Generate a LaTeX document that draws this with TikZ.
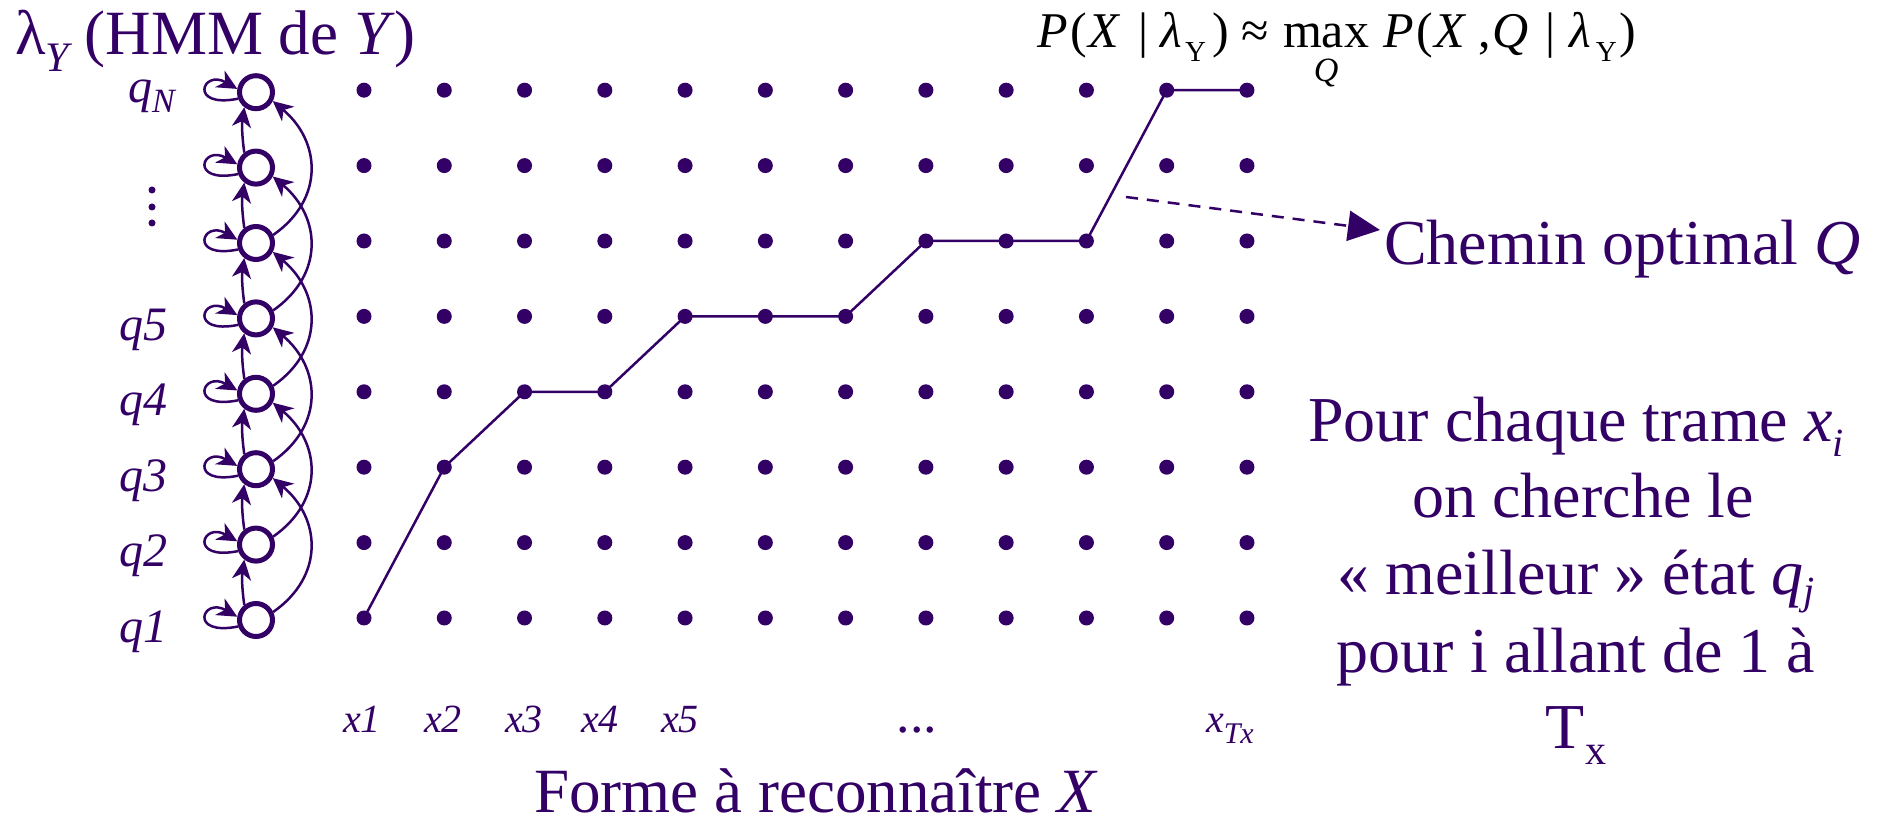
\documentclass[tikz,border=0pt]{standalone}
\usepackage{fontspec}
\setmainfont{Liberation Serif}
\usetikzlibrary{arrows.meta,calc}
\definecolor{pur}{HTML}{330066}
\newcommand\subs[3]{\raisebox{-#1}{\fontsize{#2}{#2}\selectfont #3}}
\begin{document}
\begin{tikzpicture}[x=1pt,y=1pt,
  every node/.style={inner sep=0pt,outer sep=0pt},
  dot/.style={circle,fill=pur,minimum size=15pt},
  state/.style={circle,draw=pur,line width=5pt,minimum size=33pt,fill=white,outer sep=2.5pt},
  arr/.style={draw=pur,line width=2.5pt,-{Stealth[length=20pt,width=19pt,inset=6pt]}},
  vpath/.style={draw=pur,line width=2.5pt,line join=round},
  dasharr/.style={draw=pur,line width=2.5pt,dash pattern=on 12pt off 9pt,-{Triangle[length=32pt,width=30pt]}},
  qlab/.style={text=pur,anchor=base,font=\fontsize{48}{48}\selectfont\itshape},
  xlab/.style={text=pur,anchor=base,font=\fontsize{40}{40}\selectfont\itshape},
  big/.style={text=pur,font=\fontsize{64}{64}\selectfont},
]
\useasboundingbox (0,0) rectangle (1879,817);

% grid of dots
\foreach \c in {1,...,12}
  \foreach \r in {1,...,8}
    \node[dot] (d-\c-\r) at ({364+80.27*(\c-1)},{199+75.4*(\r-1)}) {};

% optimal path
\draw[vpath] (d-1-1.center) -- (d-2-3.center) -- (d-3-4.center) -- (d-4-4.center)
  -- (d-5-5.center) -- (d-6-5.center) -- (d-7-5.center) -- (d-8-6.center)
  -- (d-9-6.center) -- (d-10-6.center) -- (d-11-8.center) -- (d-12-8.center);

% HMM states
\foreach \r in {1,...,8}
  \node[state] (s\r) at (256,{197+75.4*(\r-1)}) {};

\foreach \r in {1,...,8}
  \draw[arr] (s\r.200) .. controls +(-50,-10) and +(-35,20) .. (s\r.170);

\foreach \r [evaluate=\r as \nx using int(\r+1)] in {1,...,7}
  \draw[arr] (s\r.128) to[bend left=8] (s\nx.-128);

\foreach \r [evaluate=\r as \nx using int(\r+2)] in {1,...,6}
  \draw[arr] (s\r.25) to[out=35,in=-40,looseness=1.2] (s\nx.-28);

% state labels
\node[qlab] (l1) at (143,175) {q1};
\node[qlab] (l2) at (143,250.4) {q2};
\node[qlab] (l3) at (143,325.8) {q3};
\node[qlab] (l4) at (143,401.2) {q4};
\node[qlab] (l5) at (143,476.6) {q5};
\node[qlab,anchor=base west] (lN) at (128,714) {q\subs{10pt}{34}{N}};
\fill[pur] (152,627) circle (3.5) (152,610) circle (3.5) (152,594) circle (3.5);

% frame labels
\node[xlab] (x1) at (362,85) {x1};
\node[xlab] (x2) at (443,85) {x2};
\node[xlab] (x3) at (524,85) {x3};
\node[xlab] (x4) at (600,85) {x4};
\node[xlab] (x5) at (680,85) {x5};
\node[xlab,font=\fontsize{54}{54}\selectfont] (xdots) at (917,85) {...};
\node[xlab,anchor=base west] (xT) at (1206,85) {x\subs{11pt}{30}{Tx}};

% titles
\node[big,anchor=base west,font=\fontsize{63}{63}\selectfont] (title) at (15,762)
  {λ\subs{17pt}{42}{\itshape Y} (HMM de \textit{Y})};
\node[anchor=base west,text=black,font=\fontsize{50}{60}\selectfont] (formula) at (1037,769)
  {\textit{P}\hspace{3pt}(\hspace{1pt}\textit{X}\hspace{18pt}|\hspace{12pt}\textit{λ}\hspace{3pt}\subs{14pt}{29}{Y}\hspace{7pt})\hspace{12pt}≈\hspace{14pt}\begin{tabular}[t]{@{}c@{}}max\\[-26pt]{\fontsize{34}{34}\selectfont\itshape Q}\end{tabular}\hspace{14pt}\textit{P}\hspace{3pt}(\hspace{1pt}\textit{X}\hspace{12pt},\hspace{2pt}\textit{Q}\hspace{16pt}|\hspace{14pt}\textit{λ}\hspace{5pt}\subs{14pt}{29}{Y}\hspace{3pt})};

\node[big,anchor=base west] (chemin) at (1384,552) {Chemin optimal \textit{Q}};
\coordinate (dstart) at (1126,620);
\draw[dasharr] (dstart) -- ($(chemin.base west)+(-4,35)$);

\node[big,anchor=base] (r1) at (1576,375) {Pour chaque trame \textit{x}\subs{15pt}{40}{\itshape i}};
\node[big,anchor=base] (r2) at (1583,299) {on cherche le};
\node[big,anchor=base] (r3) at (1576,222) {« meilleur » état \textit{q}\subs{10pt}{40}{\itshape j}};
\node[big,anchor=base] (r4) at (1576,145) {pour i allant de 1 à};
\node[big,anchor=base] (r5) at (1576,69) {T\subs{16pt}{42}{x}};

\node[anchor=base,text=pur,font=\fontsize{63}{63}\selectfont] (forme) at (816,5) {Forme à reconnaître \textit{X}};
\end{tikzpicture}
\end{document}
